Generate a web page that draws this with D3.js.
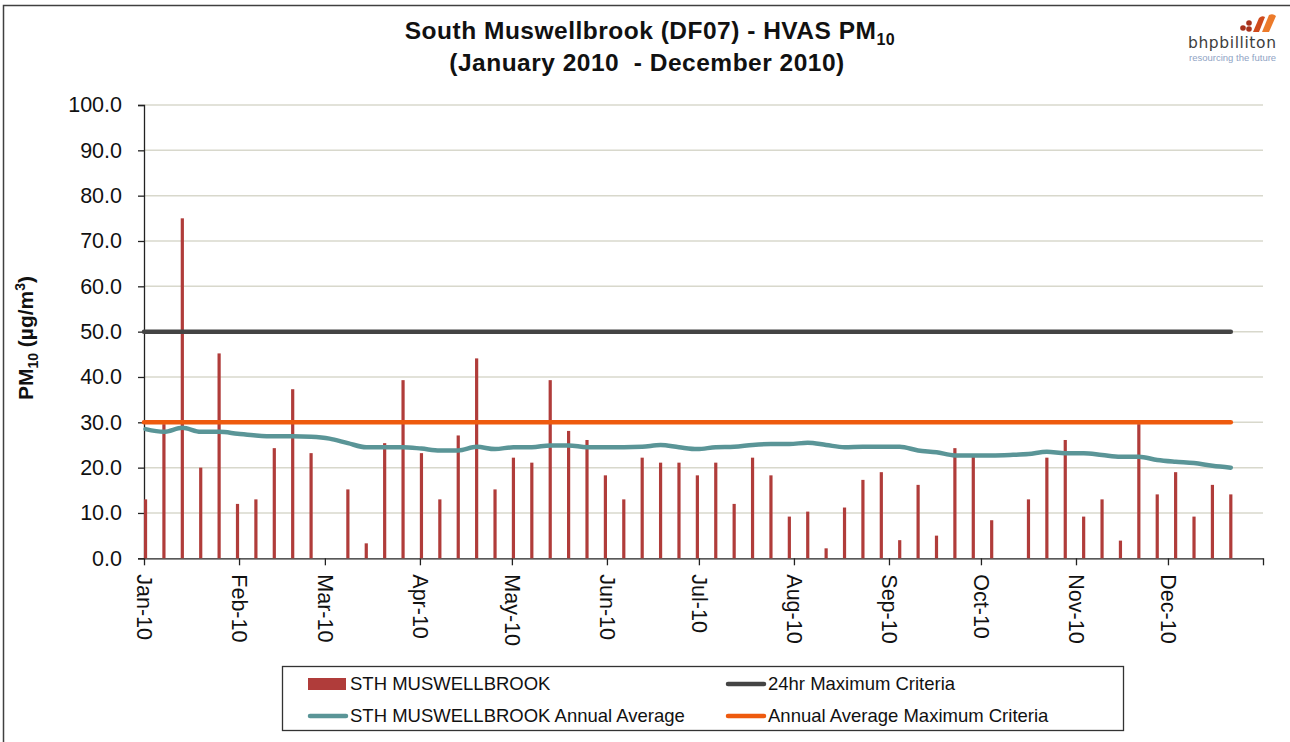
<!DOCTYPE html>
<html>
<head>
<meta charset="utf-8">
<script src="https://cdn.jsdelivr.net/npm/d3@7"></script>
<style>
  body { margin: 0; background: #fff; }
  svg { font-family: "Liberation Sans", Arial, sans-serif; }
</style>
</head>
<body>
<script>
// data: HVAS samples every 6th day
var sampleDates = [
  '2010-01-01','2010-01-07','2010-01-13','2010-01-19','2010-01-25','2010-01-31',
  '2010-02-06','2010-02-12','2010-02-18','2010-02-24','2010-03-02','2010-03-08',
  '2010-03-14','2010-03-20','2010-03-26','2010-04-01','2010-04-07','2010-04-13',
  '2010-04-19','2010-04-25','2010-05-01','2010-05-07','2010-05-13','2010-05-19',
  '2010-05-25','2010-05-31','2010-06-06','2010-06-12','2010-06-18','2010-06-24',
  '2010-06-30','2010-07-06','2010-07-12','2010-07-18','2010-07-24','2010-07-30',
  '2010-08-05','2010-08-11','2010-08-17','2010-08-23','2010-08-29','2010-09-04',
  '2010-09-10','2010-09-16','2010-09-22','2010-09-28','2010-10-04','2010-10-10',
  '2010-10-16','2010-10-22','2010-10-28','2010-11-03','2010-11-09','2010-11-15',
  '2010-11-21','2010-11-27','2010-12-03','2010-12-09','2010-12-15','2010-12-21'
];
var pm10 = [
  13.0, 29.6, 75.0, 20.0, 45.2, 12.0,
  13.0, 24.3, 37.3, 23.2, null, 15.2,
  3.3, 25.4, 39.3, 23.2, 13.0, 27.1,
  44.1, 15.2, 22.2, 21.1, 39.3, 28.1,
  26.1, 18.3, 13.0, 22.2, 21.1, 21.1,
  18.3, 21.1, 12.0, 22.2, 18.3, 9.2,
  10.3, 2.2, 11.2, 17.3, 19.0, 4.0,
  16.2, 5.0, 24.3, 22.4, 8.4, null,
  13.0, 22.2, 26.1, 9.2, 13.0, 3.9,
  29.6, 14.1, 19.0, 9.2, 16.2, 14.1
];
var annualAvg = [
  28.5, 27.9, 28.8, 27.9, 27.9, 27.5,
  27.1, 26.9, 26.9, 26.8, 26.4, 25.4,
  24.5, 24.5, 24.5, 24.2, 23.8, 23.8,
  24.6, 24.1, 24.5, 24.5, 24.9, 24.9,
  24.5, 24.5, 24.5, 24.6, 25.0, 24.5,
  24.1, 24.5, 24.6, 25.0, 25.2, 25.2,
  25.5, 25.0, 24.5, 24.6, 24.6, 24.6,
  23.8, 23.4, 22.7, 22.7, 22.7, 22.8,
  23.0, 23.5, 23.2, 23.2, 22.8, 22.4,
  22.4, 21.7, 21.3, 21.0, 20.4, 20.0
];
var criteria24hr = 50;
var criteriaAnnual = 30;
var yTicks = [0, 10, 20, 30, 40, 50, 60, 70, 80, 90, 100];

var legendItems = [
  { label: 'STH MUSWELLBROOK', kind: 'bar', color: '#b03c3a' },
  { label: '24hr Maximum Criteria', kind: 'line', color: '#444444' },
  { label: 'STH MUSWELLBROOK Annual Average', kind: 'line', color: '#5a9597' },
  { label: 'Annual Average Maximum Criteria', kind: 'line', color: '#ee5a0e' }
];

// ----------------------------------------------------------------------------
var W = 1290, H = 742;
var parseDate = d3.utcParse('%Y-%m-%d');
var dates = sampleDates.map(parseDate);
var halfDay = 12 * 3600 * 1000;

var svg = d3.select('body').append('svg')
  .attr('width', W)
  .attr('height', H);

// chart border
svg.append('rect')
  .attr('x', 3.5).attr('y', 5.5)
  .attr('width', W + 10).attr('height', H + 10)
  .attr('fill', 'none')
  .attr('stroke', '#404040')
  .attr('stroke-width', 1.5);

var x = d3.scaleUtc()
  .domain([parseDate('2010-01-01'), parseDate('2011-01-01')])
  .range([144, 1263]);

var y = d3.scaleLinear()
  .domain([0, 100])
  .range([558.3, 105]);

// gridlines
svg.append('g').selectAll('line')
  .data(yTicks.filter(function (d) { return d > 0; }))
  .enter().append('line')
  .attr('x1', 144).attr('x2', 1263)
  .attr('y1', function (d) { return y(d); })
  .attr('y2', function (d) { return y(d); })
  .attr('stroke', '#d8d8cc')
  .attr('stroke-width', 1.5);

// y axis
var yAxis = svg.append('g')
  .attr('transform', 'translate(144,0)')
  .call(d3.axisLeft(y).tickValues(yTicks).tickFormat(d3.format('.1f')).tickSize(6).tickPadding(16));
yAxis.select('.domain').attr('stroke', '#222').attr('stroke-width', 1.3);
yAxis.selectAll('.tick line').attr('stroke', '#222').attr('stroke-width', 1.3);
yAxis.selectAll('.tick text')
  .attr('font-size', 21.5)
  .attr('fill', '#111')
  .attr('font-family', '"Liberation Sans", Arial, sans-serif');

// x axis
var monthTicks = d3.utcMonth.range(parseDate('2010-01-01'), parseDate('2011-01-02'));
var xAxis = svg.append('g')
  .attr('transform', 'translate(0,558.3)')
  .call(d3.axisBottom(x).tickValues(monthTicks).tickSize(7).tickSizeOuter(0)
    .tickFormat(function (d) {
      return d.getUTCFullYear() === 2011 ? '' : d3.utcFormat('%b-%y')(d);
    }));
xAxis.select('.domain').attr('stroke', '#222').attr('stroke-width', 1.3);
xAxis.selectAll('.tick line').attr('stroke', '#222').attr('stroke-width', 1.3);
xAxis.selectAll('.tick text')
  .attr('font-size', 21.5)
  .attr('fill', '#111')
  .attr('font-family', '"Liberation Sans", Arial, sans-serif')
  .attr('text-anchor', 'start')
  .attr('transform', 'rotate(90)')
  .attr('x', 16)
  .attr('y', 0)
  .attr('dy', '0.35em');

// bars
svg.append('g').selectAll('rect')
  .data(dates.map(function (d, i) { return { date: d, v: pm10[i] }; })
    .filter(function (d) { return d.v !== null; }))
  .enter().append('rect')
  .attr('x', function (d) { return x(new Date(+d.date + halfDay)) - 1.6; })
  .attr('y', function (d) { return y(d.v); })
  .attr('width', 3.2)
  .attr('height', function (d) { return y(0) - y(d.v); })
  .attr('fill', '#b03c3a');

// criteria lines
var lastX = x(new Date(+dates[dates.length - 1] + halfDay));
svg.append('line')
  .attr('x1', 144).attr('x2', lastX)
  .attr('y1', y(criteria24hr)).attr('y2', y(criteria24hr))
  .attr('stroke', '#444444').attr('stroke-width', 4.5).attr('stroke-linecap', 'round');

// annual average line
var avgLine = d3.line()
  .x(function (d, i) { return x(new Date(+dates[i] + halfDay)); })
  .y(function (d) { return y(d); })
  .curve(d3.curveMonotoneX);
svg.append('path')
  .datum(annualAvg)
  .attr('d', avgLine)
  .attr('fill', 'none')
  .attr('stroke', '#5a9597')
  .attr('stroke-width', 4.5)
  .attr('stroke-linecap', 'round');

svg.append('line')
  .attr('x1', 144).attr('x2', lastX)
  .attr('y1', y(criteriaAnnual)).attr('y2', y(criteriaAnnual))
  .attr('stroke', '#ee5a0e').attr('stroke-width', 4.5).attr('stroke-linecap', 'round');

// title
var title = svg.append('text')
  .attr('x', 650).attr('y', 39)
  .attr('text-anchor', 'middle')
  .attr('font-size', 24.5).attr('font-weight', 'bold').attr('fill', '#111')
  .attr('letter-spacing', 0.5);
title.append('tspan').text('South Muswellbrook (DF07) - HVAS PM');
title.append('tspan').attr('font-size', 16).attr('dy', 6).text('10');
svg.append('text')
  .attr('x', 647).attr('y', 71)
  .attr('text-anchor', 'middle')
  .attr('font-size', 24.5).attr('font-weight', 'bold').attr('fill', '#111')
  .attr('letter-spacing', 0.5)
  .attr('xml:space', 'preserve')
  .text('(January 2010  - December 2010)');

// y axis title
var yTitle = svg.append('text')
  .attr('transform', 'translate(33,338) rotate(-90)')
  .attr('text-anchor', 'middle')
  .attr('font-size', 21).attr('font-weight', 'bold').attr('fill', '#111');
yTitle.append('tspan').text('PM');
yTitle.append('tspan').attr('font-size', 14).attr('dy', 5).text('10');
yTitle.append('tspan').attr('dy', -5).text(' (\u00b5g/m');
yTitle.append('tspan').attr('font-size', 14).attr('dy', -8).text('3');
yTitle.append('tspan').attr('dy', 8).text(')');

// legend
svg.append('rect')
  .attr('x', 282.5).attr('y', 666.5)
  .attr('width', 841).attr('height', 64)
  .attr('fill', '#fff').attr('stroke', '#333').attr('stroke-width', 1.3);

var legendPos = [[308, 684], [726, 684], [308, 716], [726, 716]];
var lg = svg.append('g').selectAll('g')
  .data(legendItems)
  .enter().append('g')
  .attr('transform', function (d, i) {
    return 'translate(' + legendPos[i][0] + ',' + legendPos[i][1] + ')';
  });
lg.filter(function (d) { return d.kind === 'bar'; })
  .append('rect')
  .attr('x', 0).attr('y', -6).attr('width', 38).attr('height', 12)
  .attr('fill', function (d) { return d.color; });
lg.filter(function (d) { return d.kind === 'line'; })
  .append('line')
  .attr('x1', 2).attr('x2', 38).attr('y1', 0).attr('y2', 0)
  .attr('stroke', function (d) { return d.color; })
  .attr('stroke-width', 4.5).attr('stroke-linecap', 'round');
lg.append('text')
  .attr('x', 42).attr('y', 0).attr('dy', '0.35em')
  .attr('font-size', 18.5).attr('fill', '#111')
  .text(function (d) { return d.label; });

// logo
var logo = svg.append('g');
var logoDots = [[1243, 28, 2.8], [1249, 23, 2.8], [1249, 29, 2.8]];
logo.selectAll('circle').data(logoDots).enter().append('circle')
  .attr('cx', function (d) { return d[0]; })
  .attr('cy', function (d) { return d[1]; })
  .attr('r', function (d) { return d[2]; })
  .attr('fill', '#a8321c');
logo.append('path')
  .attr('d', 'M1253,32 L1259,18 Q1262,15 1265,17 L1259,32 Z')
  .attr('fill', '#cf4a1c');
logo.append('path')
  .attr('d', 'M1262,32 L1269,15 Q1273,13 1276,16 L1269,32 Z')
  .attr('fill', '#ec7a2a');
logo.append('text')
  .attr('x', 1188).attr('y', 48)
  .attr('font-family', '"DejaVu Sans", Verdana, sans-serif')
  .attr('font-size', 15.5).attr('fill', '#3d3d3d')
  .attr('letter-spacing', 0.6)
  .text('bhpbilliton');
logo.append('text')
  .attr('x', 1189).attr('y', 61)
  .attr('font-size', 9.5).attr('fill', '#8fa3c4')
  .text('resourcing the future');
</script>
</body>
</html>
